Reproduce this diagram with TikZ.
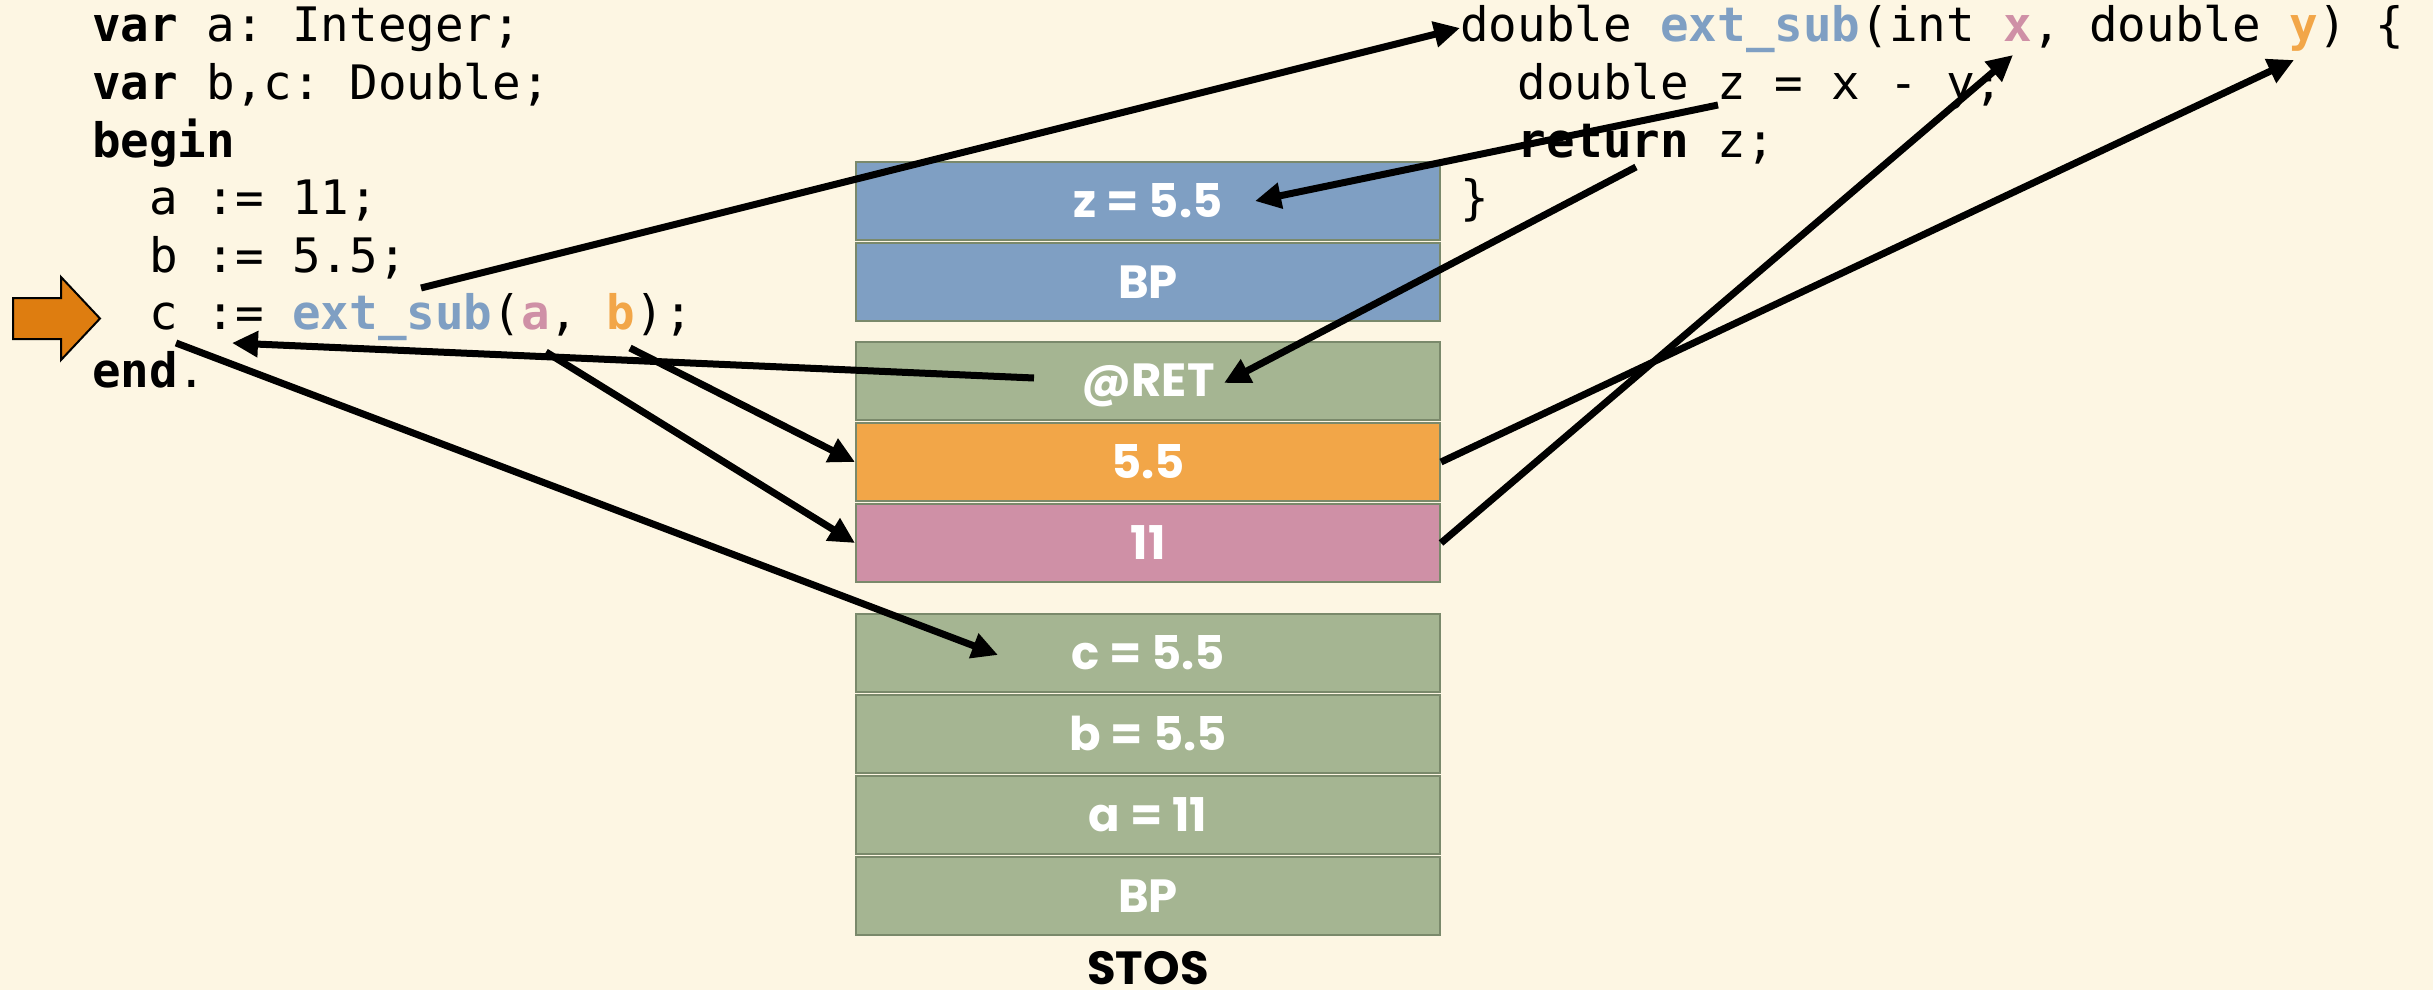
\documentclass[tikz,border=0pt]{standalone}
\usepackage{fontspec}
\usetikzlibrary{arrows.meta}
\newfontfamily\codefont{DejaVu Sans Mono}
\newfontfamily\cellfont{Poppins}
\definecolor{paper}{RGB}{253,246,227}
\definecolor{frameblue}{RGB}{127,159,195}
\definecolor{framegreen}{RGB}{165,181,146}
\definecolor{argorange}{RGB}{242,166,72}
\definecolor{argpink}{RGB}{207,144,166}
\definecolor{cellrule}{RGB}{122,137,107}
\definecolor{pcmark}{RGB}{222,125,16}
\tikzset{
  code/.style={anchor=base west, inner sep=0pt,
    font=\codefont\frenchspacing\fontsize{47.5pt}{57pt}\selectfont},
  celltext/.style={inner sep=0pt, text height=32.5pt, text depth=0pt,
    font=\cellfont\bfseries\fontsize{46.5pt}{50pt}\selectfont},
  cell/.style={celltext, draw=cellrule, line width=2pt, minimum width=584pt,
    minimum height=78pt, text=white},
  ptr/.style={line width=7pt, -{Triangle[length=26pt,width=25pt]}},
}
\newcommand{\kw}[1]{{\bfseries #1}}
\newcommand{\hl}[2]{{\color{#1}\bfseries #2}}
\begin{document}
\begin{tikzpicture}[x=1pt,y=-1pt]
\useasboundingbox (0,0) rectangle (2433,990);
\fill[paper] (0,0) rectangle (2433,990);

% caller (Pascal)
\node[code] (l1) at (92,42)    {\kw{var} a: Integer;};
\node[code] (l2) at (92,99.5)  {\kw{var} b,c: Double;};
\node[code] (l3) at (92,157)   {\kw{begin}};
\node[code] (l4) at (149.2,214.5) {a := 11;};
\node[code] (l5) at (149.2,272)   {b := 5.5;};
\node[code] (l6) at (149.2,329.5) {c := \hl{frameblue}{ext\_sub}(\hl{argpink}{a}, \hl{argorange}{b});};
\node[code] (l7) at (92,387)   {\kw{end}.};

% callee (C)
\node[code] (r1) at (1460,42)    {double \hl{frameblue}{ext\_sub}(int \hl{argpink}{x}, double \hl{argorange}{y}) \{};
\node[code] (r2) at (1517.2,99.5) {double z = x - y;};
\node[code] (r3) at (1517.2,157)  {\kw{return} z;};
\node[code] (r4) at (1460,214.5)  {\}};

% current instruction marker
\filldraw[fill=pcmark, draw=black, line width=2pt]
  (13,298) -- (61,298) -- (61,277) -- (100,318.5) -- (61,360) -- (61,339) -- (13,339) -- cycle;

% stack cells
\node[cell, fill=frameblue]  (sz)   at (1148,201)   {z = 5.5};
\node[cell, fill=frameblue]  (sbp2) at (1148,282)   {BP};
\node[cell, fill=framegreen] (sret) at (1148,380.5) {@RET};
\node[cell, fill=argorange]  (sy)   at (1148,462)   {5.5};
\node[cell, fill=argpink]    (sx)   at (1148,543)   {11};
\node[cell, fill=framegreen] (sc)   at (1148,653)   {c = 5.5};
\node[cell, fill=framegreen] (sb)   at (1148,734)   {b = 5.5};
\node[cell, fill=framegreen] (sa)   at (1148,815)   {a = 11};
\node[cell, fill=framegreen] (sbp1) at (1148,896)   {BP};
\node[celltext] (stos) at (1148,968) {STOS};

% connector end points on code tokens and inside cells
\coordinate (callsite) at (421,288);
\coordinate (fnhead)   at (1460,28);
\coordinate (zdef)     at (1718,105);
\coordinate (ztip)     at (1255,201);
\coordinate (retkw)    at (1636,167);
\coordinate (rettip)   at (1224,383);
\coordinate (retsrc)   at (1034,378);
\coordinate (cdst)     at (232,343);
\coordinate (csrc)     at (176,343);
\coordinate (ctip)     at (998,655);
\coordinate (argA)     at (546,352);
\coordinate (argB)     at (630,348);
\coordinate (parX)     at (2013,55);
\coordinate (parY)     at (2294,60);

% connectors
\draw[ptr] (callsite) -- (fnhead);
\draw[ptr] (zdef) -- (ztip);
\draw[ptr] (retkw) -- (rettip);
\draw[ptr] (retsrc) -- (cdst);
\draw[ptr] (csrc) -- (ctip);
\draw[ptr] (argA) -- (sx.west);
\draw[ptr] (argB) -- (sy.west);
\draw[ptr] (sx.east) -- (parX);
\draw[ptr] (sy.east) -- (parY);
\end{tikzpicture}
\end{document}
